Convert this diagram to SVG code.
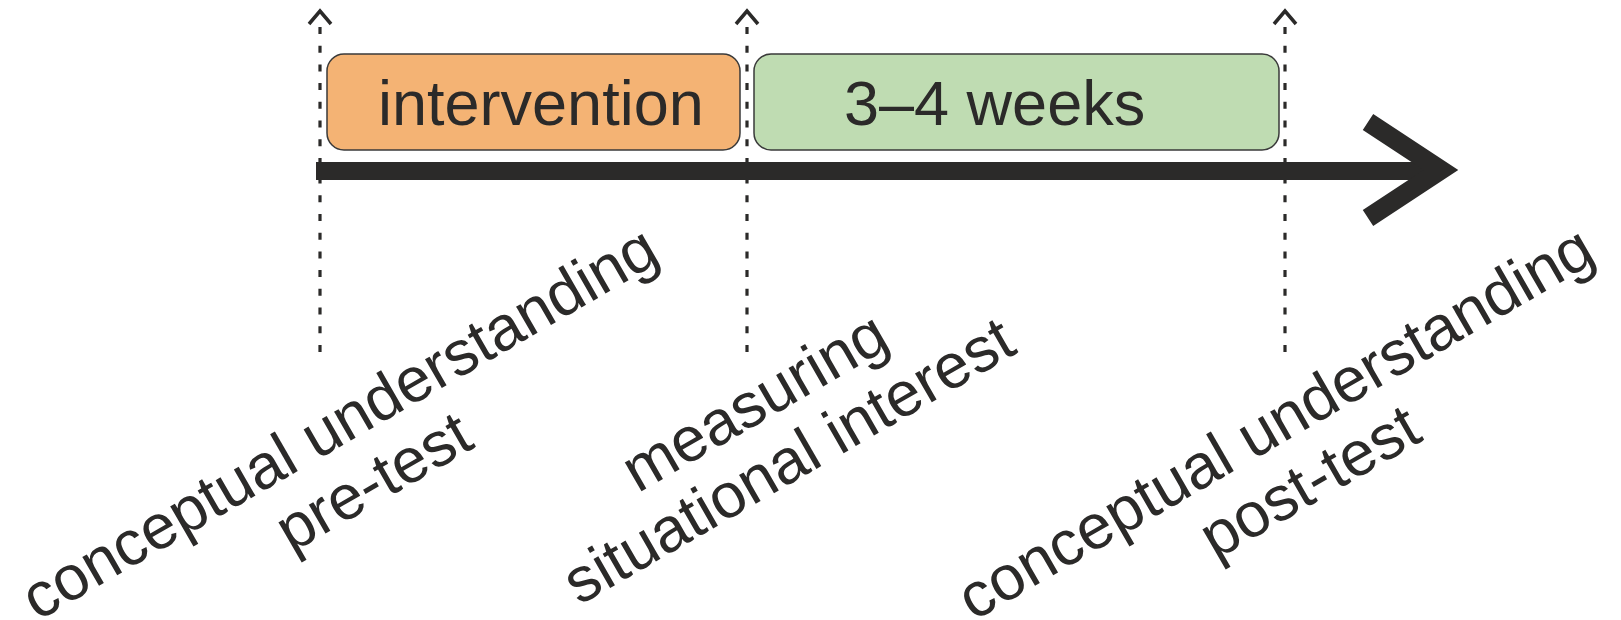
<svg xmlns="http://www.w3.org/2000/svg" width="1621" height="620" viewBox="0 0 1621 620">
<defs>
<style>
.lbl{font-family:"Liberation Sans",Arial,sans-serif;font-size:63px;fill:#2b2a29}
.dash{stroke:#2b2a29;stroke-width:3.2;stroke-dasharray:7 11.7;fill:none}
.caret{stroke:#2b2a29;stroke-width:3.5;fill:none}
.box{stroke:#3a3a3a;stroke-width:1.5}
</style>
</defs>
<rect width="1621" height="620" fill="#ffffff"/>
<g id="connectors">
<line class="dash" x1="320" y1="27" x2="320" y2="352"/>
<line class="dash" x1="747" y1="27" x2="747" y2="352"/>
<line class="dash" x1="1285" y1="27" x2="1285" y2="352"/>
<polyline class="caret" points="309,24 320,11 331,24"/>
<polyline class="caret" points="736,24 747,11 758,24"/>
<polyline class="caret" points="1274,24 1285,11 1296,24"/>
<g id="timeline">
<line x1="316" y1="171" x2="1430" y2="171" stroke="#2b2a29" stroke-width="18"/>
<polyline points="1368,122 1441,170 1368,218" fill="none" stroke="#2b2a29" stroke-width="19" stroke-linejoin="miter"/>
</g>
</g>
<g id="intervention">
<rect class="box" x="327" y="54" width="413" height="96" rx="17" fill="#f4b374"/>
<text class="lbl" x="378" y="125">intervention</text>
</g>
<g id="weeks">
<rect class="box" x="754" y="54" width="525" height="96" rx="17" fill="#bfdcb2"/>
<text class="lbl" x="844" y="125">3–4 weeks</text>
</g>
<g id="label-pretest" transform="translate(350,441) rotate(-30)">
<text class="lbl" text-anchor="middle"><tspan x="0" y="0">conceptual understanding</tspan><tspan x="0" y="68">pre-test</tspan></text>
</g>
<g id="label-interest" transform="translate(765,420) rotate(-30)">
<text class="lbl" text-anchor="middle"><tspan x="0" y="0">measuring</tspan><tspan x="0" y="68">situational interest</tspan></text>
</g>
<g id="label-posttest" transform="translate(1286,441) rotate(-30)">
<text class="lbl" text-anchor="middle"><tspan x="0" y="0">conceptual understanding</tspan><tspan x="0" y="68">post-test</tspan></text>
</g>
</svg>
